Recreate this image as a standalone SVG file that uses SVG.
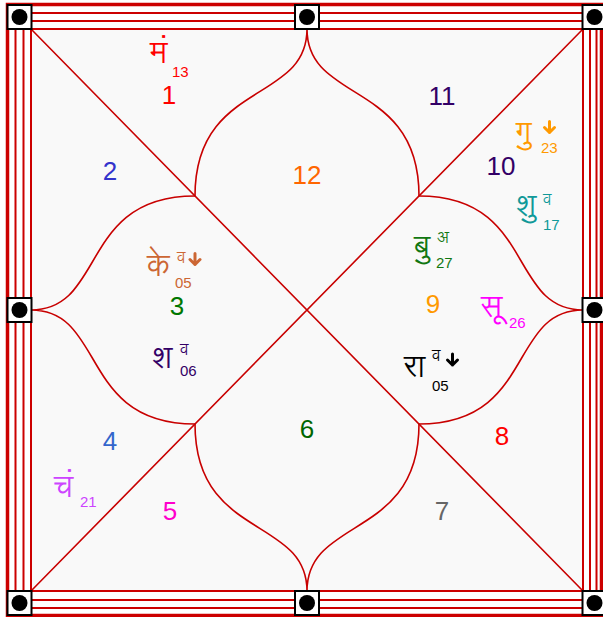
<svg xmlns="http://www.w3.org/2000/svg" width="603" height="617" viewBox="0 0 603 617">
<style>
.fr{fill:none;stroke:#cc0000;stroke-width:2}
.ln{fill:none;stroke:#c80000;stroke-width:1.6}
.bx{fill:#fff;stroke:#000;stroke-width:2}
.num{font-family:"Liberation Sans",Arial,sans-serif;font-size:26px;text-anchor:middle}
.pl{font-family:"Lohit Devanagari","FreeSans","Noto Sans Devanagari","Noto Sans",sans-serif;font-size:31px;font-weight:300}
.sm{font-family:"Liberation Sans",Arial,sans-serif;font-size:15px}
.sp{font-family:"Lohit Devanagari","FreeSans","Noto Sans Devanagari","Noto Sans",sans-serif;font-size:16px;font-weight:300}
.ar{fill:none;stroke-width:3;stroke-linecap:round;stroke-linejoin:round}
</style>
<defs>
<path id="arr" d="M0,-5.5 V5.5 M-5,0.5 L0,5.5 L5,0.5"/>
<g id="pin"><rect x="-12" y="-12" width="24" height="24" class="bx"/><circle r="8" fill="#000"/></g>
</defs>
<rect width="603" height="617" fill="#fff"/>
<rect x="31" y="29" width="552" height="562" fill="#f9f9f9"/>
<g id="frame">
<rect x="7.5" y="4.5" width="594" height="611" fill="none" stroke="#cc0000" stroke-width="3.5"/>
<rect x="15.5" y="13" width="581" height="595" class="fr"/>
<rect x="23.5" y="21" width="566.5" height="579" class="fr"/>
<rect x="31" y="29" width="552" height="562" class="fr"/>
</g>
<g id="connectors">
<path class="ln" d="M31,29 L583,591 M583,29 L31,591"/>
<path class="ln" d="M307,29 C307,104 195,80 195,196 M307,29 C307,104 419,80 419,196"/>
<path class="ln" d="M307,591 C307,516 195,540 195,424 M307,591 C307,516 419,540 419,424"/>
<path class="ln" d="M31,310 C106,310 79,196 195,196 M31,310 C106,310 79,424 195,424"/>
<path class="ln" d="M583,310 C508,310 535,196 419,196 M583,310 C508,310 535,424 419,424"/>
</g>
<g id="pins">
<use href="#pin" x="19.5" y="17"/>
<use href="#pin" x="307" y="17"/>
<use href="#pin" x="594.5" y="17"/>
<use href="#pin" x="19.5" y="310"/>
<use href="#pin" x="594.5" y="310"/>
<use href="#pin" x="19.5" y="603"/>
<use href="#pin" x="307" y="603"/>
<use href="#pin" x="594.5" y="603"/>
</g>
<g id="house1" fill="#ff0000">
<text class="pl" x="150" y="63">मं</text>
<text class="sm" x="172" y="77">13</text>
<text class="num" x="169" y="104">1</text>
</g>
<g id="house2" fill="#3333cc">
<text class="num" x="110" y="180">2</text>
</g>
<g id="house12" fill="#ff6600">
<text class="num" x="307" y="184">12</text>
</g>
<g id="house11" fill="#330066">
<text class="num" x="442" y="105">11</text>
</g>
<g id="house10">
<g fill="#ff9900">
<text class="pl" x="516" y="143">गु</text>
<use href="#arr" x="549.5" y="127" class="ar" stroke="#ff9900"/>
<text class="sm" x="541" y="153">23</text>
</g>
<text class="num" x="501" y="175" fill="#330066">10</text>
<g fill="#119999">
<text class="pl" x="516" y="216">शु</text>
<text class="sp" x="543" y="205">व</text>
<text class="sm" x="543" y="230">17</text>
</g>
</g>
<g id="house3">
<g fill="#cc6633">
<text class="pl" x="147" y="276">के</text>
<text class="sp" x="177" y="263">व</text>
<use href="#arr" x="195" y="259" class="ar" stroke="#cc6633"/>
<text class="sm" x="175" y="288">05</text>
</g>
<text class="num" x="177" y="315" fill="#007700">3</text>
<g fill="#330066">
<text class="pl" x="152" y="368">श</text>
<text class="sp" x="180" y="355">व</text>
<text class="sm" x="180" y="376">06</text>
</g>
</g>
<g id="house9">
<g fill="#117711">
<text class="pl" x="414" y="257">बु</text>
<text class="sp" x="437" y="243">अ</text>
<text class="sm" x="436" y="268">27</text>
</g>
<text class="num" x="433" y="313" fill="#ff9900">9</text>
<g fill="#000">
<text class="pl" x="404" y="377">रा</text>
<text class="sp" x="432" y="361">व</text>
<use href="#arr" x="452.5" y="359.5" class="ar" stroke="#000"/>
<text class="sm" x="432" y="391">05</text>
</g>
</g>
<g id="house8">
<g fill="#ff00ff">
<text class="pl" x="481" y="317">सू</text>
<text class="sm" x="509" y="328">26</text>
</g>
<text class="num" x="502" y="445" fill="#ff0000">8</text>
</g>
<g id="house4">
<text class="num" x="110" y="450" fill="#3366cc">4</text>
<g fill="#cc44ff">
<text class="pl" x="54" y="497">चं</text>
<text class="sm" x="80" y="507">21</text>
</g>
</g>
<g id="house5"><text class="num" x="170" y="520" fill="#ff00cc">5</text></g>
<g id="house6"><text class="num" x="307" y="438" fill="#006600">6</text></g>
<g id="house7"><text class="num" x="442" y="520" fill="#666666">7</text></g>
</svg>
